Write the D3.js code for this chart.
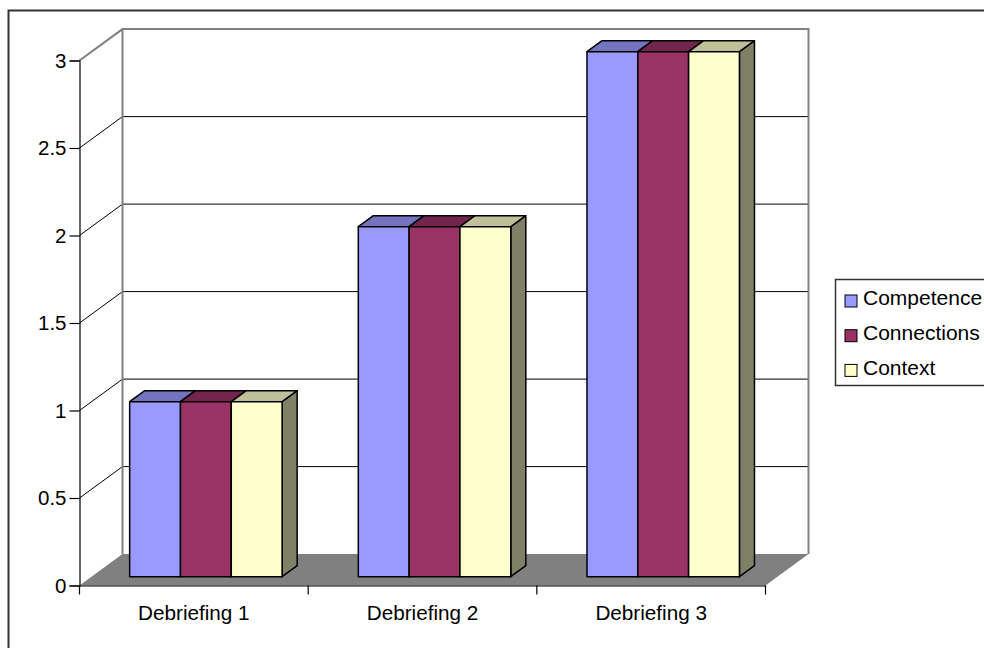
<!DOCTYPE html>
<html>
<head>
<meta charset="utf-8">
<script src="https://cdn.jsdelivr.net/npm/d3@7/dist/d3.min.js"></script>
<style>
  html, body { margin: 0; padding: 0; background: #fff; }
  svg { display: block; font-family: Arial, "Liberation Sans", sans-serif; }
</style>
</head>
<body>
<svg id="chart" width="984" height="648"></svg>
<script>
// Chart data
const categories = ["Debriefing 1", "Debriefing 2", "Debriefing 3"];
const seriesNames = ["Competence", "Connections", "Context"];
const competence = [1, 2, 3];
const connections = [1, 2, 3];
const context = [1, 2, 3];
const yTickValues = [0, 0.5, 1, 1.5, 2, 2.5, 3];
const yTickLabels = ["0", "0.5", "1", "1.5", "2", "2.5", "3"];

const seriesValues = [competence, connections, context];
// front, top, side shading per series
const palette = [
  { front: "#9999ff", top: "#7373bf", side: "#5c5c99" },
  { front: "#993366", top: "#73264d", side: "#5c1f3d" },
  { front: "#ffffcc", top: "#bfbf99", side: "#808066" }
];

const svg = d3.select("#chart");

// Plot geometry: front plane, and oblique depth offset for the 3D box
const x0 = 79.5, x1 = 765.5;
const DX = 43, DY = 31.4;
const zFront = 0.28, zBack = 0.63;

const x = d3.scaleBand().domain(categories).range([x0, x1]).padding(0);
const xs = d3.scaleBand().domain(seriesNames).range([0, x.bandwidth()])
  .paddingInner(0).paddingOuter(0.75);
const y = d3.scaleLinear().domain([0, 3]).range([585.5, 60.5]);

const proj = (px, v, z) => [px + z * DX, y(v) - z * DY];
const poly = pts => "M" + pts.map(p => p.join(",")).join("L") + "Z";

// Outer frame
svg.append("rect")
  .attr("x", 8.5).attr("y", 10.5).attr("width", 1000).attr("height", 700)
  .attr("fill", "none").attr("stroke", "#333").attr("stroke-width", 2);

const [wx0, wyTop] = proj(x0, 3, 1);
const [wx1, wyBot] = proj(x1, 0, 1);

// Side wall and back wall
svg.append("path")
  .attr("d", poly([proj(x0, 0, 0), proj(x0, 3, 0), proj(x0, 3, 1), proj(x0, 0, 1)]))
  .attr("fill", "#fff").attr("stroke", "none");
svg.append("rect")
  .attr("x", wx0).attr("y", wyTop).attr("width", wx1 - wx0).attr("height", wyBot - wyTop)
  .attr("fill", "#fff").attr("stroke", "none");

// Gridlines on side wall and back wall
const grid = svg.append("g");
yTickValues.filter(v => v > 0 && v < 3).forEach(v => {
  const a = proj(x0, v, 0), b = proj(x0, v, 1), c = proj(x1, v, 1);
  grid.append("path").attr("d", `M${a}L${b}L${c}`)
    .attr("fill", "none").attr("stroke", "#000").attr("stroke-width", 1);
});

// Wall edges
const edgeTop = [proj(x0, 3, 0), proj(x0, 3, 1), proj(x1, 3, 1), proj(x1, 0, 1)];
svg.append("path").attr("d", "M" + edgeTop.map(p => p.join(",")).join("L"))
  .attr("fill", "none").attr("stroke", "#808080").attr("stroke-width", 2);
svg.append("path").attr("d", `M${proj(x0, 3, 1)}L${proj(x0, 0, 1)}`)
  .attr("fill", "none").attr("stroke", "#808080").attr("stroke-width", 2);

// Floor
svg.append("path")
  .attr("d", poly([proj(x0, 0, 0), proj(x1, 0, 0), proj(x1, 0, 1), proj(x0, 0, 1)]))
  .attr("fill", "#808080").attr("stroke", "none");

// Bars (drawn left to right so each bar covers the side of the previous one)
const bars = svg.append("g");
categories.forEach((cat, ci) => {
  seriesNames.forEach((s, si) => {
    const v = seriesValues[si][ci];
    const bx0 = x(cat) + xs(s), bx1 = bx0 + xs.bandwidth();
    const col = palette[si];
    const g = bars.append("g").attr("stroke", "#000").attr("stroke-width", 1.5)
      .attr("stroke-linejoin", "round");
    // side
    g.append("path").attr("fill", col.side)
      .attr("d", poly([proj(bx1, 0, zFront), proj(bx1, v, zFront), proj(bx1, v, zBack), proj(bx1, 0, zBack)]));
    // top
    g.append("path").attr("fill", col.top)
      .attr("d", poly([proj(bx0, v, zFront), proj(bx1, v, zFront), proj(bx1, v, zBack), proj(bx0, v, zBack)]));
    // front
    g.append("path").attr("fill", col.front)
      .attr("d", poly([proj(bx0, 0, zFront), proj(bx1, 0, zFront), proj(bx1, v, zFront), proj(bx0, v, zFront)]));
  });
});

// Value axis
const yAxis = svg.append("g").attr("transform", `translate(${x0},0)`)
  .call(d3.axisLeft(y).tickValues(yTickValues).tickSize(10).tickPadding(3)
    .tickFormat((d, i) => yTickLabels[i]));
yAxis.select(".domain").attr("stroke", "#000").attr("stroke-width", 1.2);
yAxis.selectAll(".tick line").attr("stroke", "#000").attr("stroke-width", 1.2);
yAxis.selectAll(".tick text").attr("font-size", 20.5).attr("fill", "#000")
  .attr("font-family", "Arial, 'Liberation Sans', sans-serif");

// Category axis
const xAxis = svg.append("g").attr("transform", `translate(0,${y(0)})`)
  .call(d3.axisBottom(x).tickSize(0).tickPadding(20).tickSizeOuter(0));
xAxis.select(".domain").attr("stroke", "#000").attr("stroke-width", 1.2);
xAxis.selectAll(".tick text").attr("font-size", 20.7).attr("fill", "#000")
  .attr("font-family", "Arial, 'Liberation Sans', sans-serif");
// category separators
const sepX = categories.map(c => x(c)).concat([x1]);
svg.append("g").selectAll("line").data(sepX).join("line")
  .attr("x1", d => d).attr("x2", d => d)
  .attr("y1", y(0)).attr("y2", y(0) + 9)
  .attr("stroke", "#000").attr("stroke-width", 1.2);

// Legend
const legend = svg.append("g");
legend.append("rect")
  .attr("x", 835.5).attr("y", 279.5).attr("width", 200).attr("height", 106)
  .attr("fill", "#fff").attr("stroke", "#333").attr("stroke-width", 1.5);
seriesNames.forEach((s, i) => {
  const cy = 303 + i * 34.7;
  legend.append("rect")
    .attr("x", 845).attr("y", cy - 8).attr("width", 12).attr("height", 12)
    .attr("fill", palette[i].front).attr("stroke", "#000").attr("stroke-width", 1);
  legend.append("text")
    .attr("x", 863).attr("y", cy - 5).attr("dy", "0.35em")
    .attr("font-size", 21).attr("fill", "#000")
    .text(s);
});
</script>
</body>
</html>
